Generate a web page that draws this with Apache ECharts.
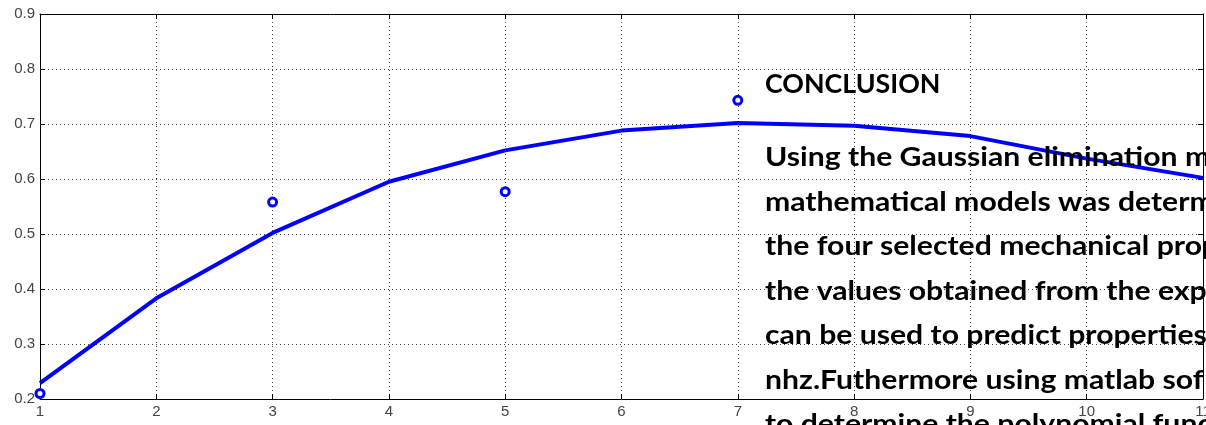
<!DOCTYPE html>
<html><head><meta charset="utf-8">
<script src="https://cdn.jsdelivr.net/npm/echarts@6/dist/echarts.min.js"></script>
<style>html,body{margin:0;padding:0;background:#fff}#c{width:1206px;height:425px}</style>
</head><body><div id="c"></div>
<script>
const fitX = [1,2,3,4,5,6,7,8,9,10,11];
const fitY = [0.229,0.383,0.502,0.595,0.652,0.688,0.702,0.697,0.678,0.637,0.602];
const obsX = [1,3,5,7];
const obsY = [0.21,0.558,0.577,0.743];
const textLines = [
  "Using the Gaussian elimination m",
  "mathematical models was determ",
  "the four selected mechanical prop",
  "the values obtained from the exp",
  "can be used to predict properties",
  "nhz.Futhermore using matlab sof",
  "to determine the polynomial func"
];
const heading = "CONCLUSION";

const chart = echarts.init(document.getElementById('c'), null, {renderer:'canvas'});
const gridDot = {show:true, lineStyle:{color:'#000', type:[1,3], width:1, opacity:0.75}};
const axisLbl = {color:'#444', fontFamily:'Liberation Sans, Arial, sans-serif', fontSize:15};
const baseAxis = {
  type:'value', min:1, max:11, interval:1,
  axisLine:{show:true, onZero:false, lineStyle:{color:'#000', width:1}},
  axisTick:{show:true, inside:true, length:5, lineStyle:{color:'#000'}},
};
const graphics = [{
  type:'text', x:765, y:72, scaleX:1.03, z:100,
  style:{text:heading, font:'bold 26px Lato', fill:'#000', verticalAlign:'top'}
}];
textLines.forEach((t,i)=>{
  graphics.push({type:'text', x:765, y:145+44.5*i, scaleX:1.16, z:100,
    style:{text:t, font:'bold 26px Lato', fill:'#000', verticalAlign:'top'}});
});
chart.setOption({
  animation:false,
  backgroundColor:'#fff',
  grid:{left:40, right:3, top:14, bottom:26, containLabel:false, outerBoundsMode:'none'},
  xAxis:[
    Object.assign({}, baseAxis, {position:'bottom', splitLine:gridDot,
      axisLabel:Object.assign({}, axisLbl, {margin:5, showMaxLabel:true, showMinLabel:true})}),
    Object.assign({}, baseAxis, {position:'top', splitLine:{show:false}, axisLabel:{show:false}})
  ],
  yAxis:[
    {type:'value', min:0.2, max:0.9, interval:0.1, position:'left',
     axisLine:{show:true, onZero:false, lineStyle:{color:'#000'}},
     axisTick:{show:true, inside:true, length:5, lineStyle:{color:'#000'}},
     splitLine:gridDot,
     axisLabel:Object.assign({}, axisLbl, {margin:5, formatter:v=>v.toFixed(1)})},
    {type:'value', min:0.2, max:0.9, interval:0.1, position:'right',
     axisLine:{show:true, onZero:false, lineStyle:{color:'#000'}},
     axisTick:{show:true, inside:true, length:5, lineStyle:{color:'#000'}},
     splitLine:{show:false}, axisLabel:{show:false}}
  ],
  series:[
    {type:'line', data:fitX.map((x,i)=>[x,fitY[i]]), showSymbol:false, symbol:'none',
     lineStyle:{color:'#0000ff', width:4}, z:3},
    {type:'scatter', data:obsX.map((x,i)=>[x,obsY[i]]), symbol:'circle', symbolSize:8,
     itemStyle:{color:'#fff', borderColor:'#0000ff', borderWidth:3, opacity:1}, z:4}
  ],
  graphic:graphics
});
</script></body></html>
